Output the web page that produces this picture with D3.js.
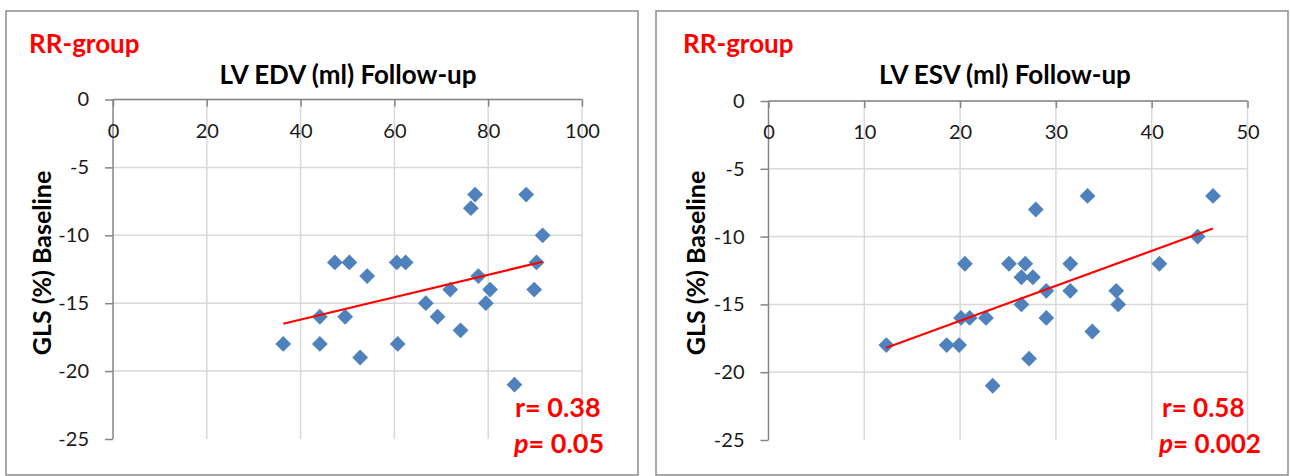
<!DOCTYPE html>
<html>
<head>
<meta charset="utf-8">
<script src="https://cdn.jsdelivr.net/npm/d3@7"></script>
<style>
  html, body { margin: 0; padding: 0; background: #fff; }
  svg { display: block; font-family: Lato, "Open Sans", sans-serif; }
</style>
</head>
<body>
<svg id="chart" width="1290" height="476"></svg>
<script>
// ---- data ----
const groupLabel = "RR-group";
const yAxisTitle = "GLS (%) Baseline";
const yTicks = [0, -5, -10, -15, -20, -25];

const edvTitle = "LV EDV (ml) Follow-up";
const edvTicks = [0, 20, 40, 60, 80, 100];
const edvX = [36.3, 44.1, 44.1, 47.3, 50.4, 49.5, 54.2, 52.7, 60.5, 62.4, 60.7, 66.7, 69.2,
              71.9, 74.1, 76.3, 77.2, 77.9, 80.4, 79.5, 88.1, 91.6, 90.3, 89.8, 85.6];
const edvY = [-18, -18, -16, -12, -12, -16, -13, -19, -12, -12, -18, -15, -16,
              -14, -17, -8, -7, -13, -14, -15, -7, -10, -12, -14, -21];
const edvStats = ["0.38", "0.05"];

const esvTitle = "LV ESV (ml) Follow-up";
const esvTicks = [0, 10, 20, 30, 40, 50];
const esvX = [12.3, 18.6, 19.9, 20.5, 20.1, 21.0, 22.7, 23.4, 25.1, 26.8, 26.4, 27.6, 26.4,
              27.2, 27.9, 29.0, 29.0, 33.3, 46.4, 44.8, 40.8, 31.5, 31.5, 36.3, 36.5, 33.8];
const esvY = [-18, -18, -18, -12, -16, -16, -16, -21, -12, -12, -13, -13, -15,
              -19, -8, -14, -16, -7, -7, -10, -12, -12, -14, -14, -15, -17];
const esvStats = ["0.58", "0.002"];

// ---- drawing ----
const svg = d3.select("#chart");
const BLUE = "#4F81BD", RED = "#FF0000", GRID = "#D9D9D9", AXIS = "#868686";
const fmt = d => String(d);

function panel(o) {
  const g = svg.append("g");
  // frame
  g.append("rect").attr("x", o.frame[0]).attr("y", o.frame[1])
    .attr("width", o.frame[2]).attr("height", o.frame[3])
    .attr("fill", "#fff").attr("stroke", "#8c8c8c").attr("stroke-width", 1.5);

  const x = d3.scaleLinear().domain([o.xTicks[0], o.xTicks[o.xTicks.length - 1]]).range(o.xr);
  const y = d3.scaleLinear().domain([0, -25]).range(o.yr);

  // gridlines
  g.append("g").selectAll("line").data(o.xTicks.slice(1)).join("line")
    .attr("x1", d => x(d)).attr("x2", d => x(d)).attr("y1", y(0)).attr("y2", y(-25))
    .attr("stroke", GRID).attr("stroke-width", 1.5);
  g.append("g").selectAll("line").data(yTicks.slice(0, -1)).join("line")
    .attr("x1", x.range()[0]).attr("x2", x.range()[1]).attr("y1", d => y(d)).attr("y2", d => y(d))
    .attr("stroke", GRID).attr("stroke-width", 1.5);

  // y axis
  const ya = g.append("g").attr("transform", `translate(${x.range()[0]},0)`)
    .call(d3.axisLeft(y).tickValues(yTicks).tickSize(8).tickPadding(16).tickFormat(fmt));
  ya.select(".domain").attr("stroke", AXIS).attr("stroke-width", 1.5).attr("d", `M0,${y(0)}V${y(-25)}`);
  ya.selectAll(".tick line").attr("stroke", AXIS).attr("stroke-width", 1.5);
  ya.selectAll(".tick text").attr("font-family", "Lato, sans-serif").attr("font-size", 20).attr("fill", "#1a1a1a");

  // x axis along y = 0, ticks pointing down, labels below
  const xa = g.append("g").attr("transform", `translate(0,${y(0)})`)
    .call(d3.axisBottom(x).tickValues(o.xTicks).tickSize(7).tickPadding(17).tickFormat(fmt));
  xa.select(".domain").attr("stroke", AXIS).attr("stroke-width", 1.5).attr("d", `M${x.range()[0]},0H${x.range()[1]}`);
  xa.selectAll(".tick line").attr("stroke", AXIS).attr("stroke-width", 1.5);
  xa.selectAll(".tick text").attr("font-family", "Lato, sans-serif").attr("font-size", 20).attr("fill", "#1a1a1a");

  // points
  const pts = o.xs.map((v, i) => [v, o.ys[i]]);
  g.append("g").selectAll("path").data(pts).join("path")
    .attr("d", d3.symbol(d3.symbolSquare, 125))
    .attr("transform", d => `translate(${x(d[0])},${y(d[1])}) rotate(45)`)
    .attr("fill", BLUE);

  // least-squares trend line
  const mx = d3.mean(o.xs), my = d3.mean(o.ys);
  const sxy = d3.sum(pts, d => (d[0] - mx) * (d[1] - my));
  const sxx = d3.sum(pts, d => (d[0] - mx) ** 2);
  const b = sxy / sxx, a = my - b * mx;
  const [xmin, xmax] = d3.extent(o.xs);
  g.append("line")
    .attr("x1", x(xmin)).attr("y1", y(a + b * xmin))
    .attr("x2", x(xmax)).attr("y2", y(a + b * xmax))
    .attr("stroke", RED).attr("stroke-width", 2.2);

  // texts
  g.append("text").attr("x", o.groupPos[0]).attr("y", o.groupPos[1])
    .attr("font-size", 26).attr("font-weight", 700).attr("fill", RED).text(groupLabel);
  g.append("text").attr("x", o.titlePos[0]).attr("y", o.titlePos[1]).attr("text-anchor", "middle")
    .attr("font-size", 26).attr("font-weight", 700).attr("fill", "#000").text(o.title);
  g.append("text").attr("transform", `translate(${o.yTitlePos[0]},${o.yTitlePos[1]}) rotate(-90)`)
    .attr("text-anchor", "middle").attr("font-size", 25).attr("font-weight", 700).attr("fill", "#000")
    .text(yAxisTitle);
  g.append("text").attr("x", o.rPos[0]).attr("y", o.rPos[1])
    .attr("font-size", o.statSize).attr("font-weight", 700).attr("fill", RED).text("r= " + o.stats[0]);
  const pt = g.append("text").attr("x", o.pPos[0]).attr("y", o.pPos[1])
    .attr("font-size", o.statSize).attr("font-weight", 700).attr("fill", RED);
  pt.append("tspan").attr("font-style", "italic").text("p");
  pt.append("tspan").text("= " + o.stats[1]);
}

panel({
  frame: [6, 11, 632, 464],
  xr: [113, 582], yr: [99.5, 439],
  xTicks: edvTicks, xs: edvX, ys: edvY, stats: edvStats, title: edvTitle,
  groupPos: [29, 53], titlePos: [348, 84], yTitlePos: [51, 263],
  rPos: [515, 417], pPos: [514, 453], statSize: 27
});
panel({
  frame: [656, 11, 632, 464],
  xr: [768.5, 1247.5], yr: [101, 440],
  xTicks: esvTicks, xs: esvX, ys: esvY, stats: esvStats, title: esvTitle,
  groupPos: [683, 53], titlePos: [1005, 84], yTitlePos: [705, 263],
  rPos: [1162, 417], pPos: [1159, 453], statSize: 26
});
</script>
</body>
</html>
